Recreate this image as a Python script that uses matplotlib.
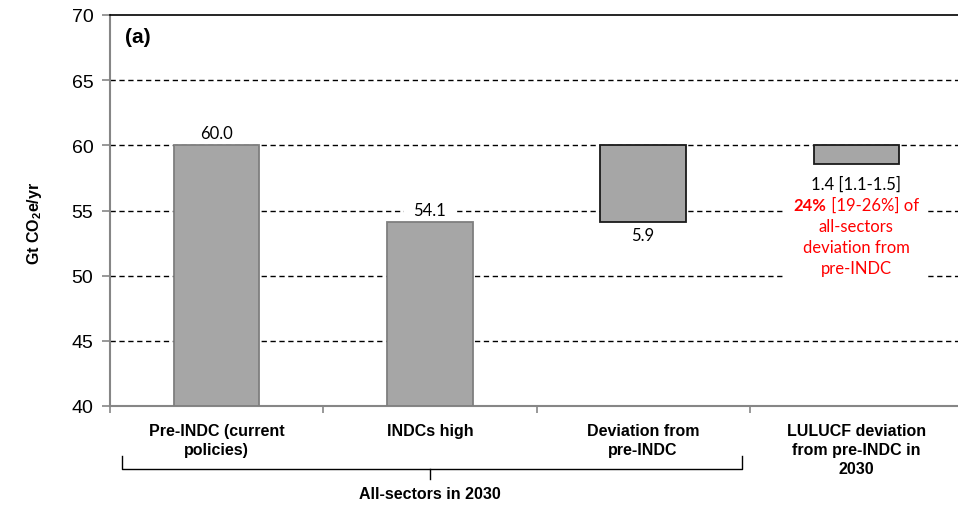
import matplotlib
matplotlib.use("Agg")
import matplotlib.pyplot as plt
from matplotlib.offsetbox import TextArea, HPacker, VPacker, AnnotationBbox

plt.rcParams['font.family'] = ['Liberation Sans', 'DejaVu Sans']
plt.rcParams['mathtext.fontset'] = 'custom'
plt.rcParams['mathtext.rm'] = 'Liberation Sans:bold'
plt.rcParams['mathtext.bf'] = 'Liberation Sans:bold'
plt.rcParams['mathtext.it'] = 'Liberation Sans:bold'

# ---- data ----
categories = ["Pre-INDC (current\npolicies)", "INDCs high", "Deviation from\npre-INDC",
              "LULUCF deviation\nfrom pre-INDC in\n2030"]
bar_bottoms = [40.0, 40.0, 54.1, 58.6]
bar_tops = [60.0, 54.1, 60.0, 60.0]
value_labels = ["60.0", "54.1", "5.9", "1.4 [1.1-1.5]"]
share_bold = "24%"
share_rest = " [19-26%] of"
share_lines = ["all-sectors", "deviation from", "pre-INDC"]
group_label = "All-sectors in 2030"
yticks = [40, 45, 50, 55, 60, 65, 70]

W, H = 958, 506
fig = plt.figure(figsize=(W / 100, H / 100), dpi=100)
ax = fig.add_axes([110 / W, 1 - 407 / H, (963 - 110) / W, (407 - 16) / H])

x = list(range(len(categories)))
heights = [t - b for t, b in zip(bar_tops, bar_bottoms)]
edgecols = ['#7f7f7f', '#7f7f7f', '#1a1a1a', '#1a1a1a']
ax.bar(x, heights, bottom=bar_bottoms, width=0.40, color='#a6a6a6',
       edgecolor=edgecols, linewidth=1.3, zorder=3)

ax.set_xlim(-0.5, 3.5)
ax.set_ylim(40, 70)
ax.set_yticks(yticks)
ax.set_yticklabels([str(v) for v in yticks], fontsize=14)
for v in yticks[1:-1]:
    ax.axhline(v, color='black', lw=1.0, ls=(0, (3.8, 2.6)), zorder=1)

ax.set_xticks(x)
ax.set_xticklabels(categories, fontsize=11.5, fontweight='bold', linespacing=1.35)
ax.set_xticks([-0.5, 0.5, 1.5, 2.5, 3.5], minor=True)
ax.tick_params(axis='x', which='major', length=0, pad=12)
ax.tick_params(axis='x', which='minor', length=5, color='#868686', width=1.2, direction='out')
ax.tick_params(axis='y', length=6, color='#868686', width=1.2, pad=6)

for s in ['left', 'bottom']:
    ax.spines[s].set_color('#868686')
    ax.spines[s].set_linewidth(1.5)
ax.spines['right'].set_visible(False)
ax.spines['top'].set_color('black')
ax.spines['top'].set_linewidth(1.2)

ax.set_ylabel(r'Gt CO$_{2}$e/yr', fontsize=11.5, fontweight='bold')
ax.yaxis.set_label_coords(-0.077, 0.47)

ax.text(0.017, 0.945, "(a)", transform=ax.transAxes, fontsize=15,
        fontweight='bold', va='center', ha='left')

lab_font = dict(family='Lato', fontsize=12)
ax.text(x[0], bar_tops[0] + 0.3, value_labels[0], ha='center', va='bottom',
        zorder=4, **lab_font)
ax.text(x[1], bar_tops[1] + 0.3, value_labels[1], ha='center', va='bottom',
        bbox=dict(facecolor='white', edgecolor='none', pad=7), zorder=2, **lab_font)
ax.text(x[2], bar_bottoms[2] - 0.35, value_labels[2], ha='center', va='top', **lab_font)

# annotation block under the LULUCF bar
fs = 12
red = '#ff0000'
rows = [TextArea(value_labels[3], textprops=dict(family='Lato', fontsize=fs, color='black'))]
rows.append(HPacker(children=[
    TextArea(share_bold, textprops=dict(family='Lato', fontsize=fs, color=red, fontweight='bold')),
    TextArea(share_rest, textprops=dict(family='Lato', fontsize=fs, color=red))],
    align='baseline', pad=0, sep=0))
for s in share_lines:
    rows.append(TextArea(s, textprops=dict(family='Lato', fontsize=fs, color=red)))
vp = VPacker(children=rows, align='center', pad=0, sep=3.6)
ab = AnnotationBbox(vp, (x[3], bar_bottoms[3] - 0.9), xycoords='data',
                    box_alignment=(0.5, 1.0), frameon=True,
                    bboxprops=dict(facecolor='white', edgecolor='none'), pad=0.6, zorder=2)
ax.add_artist(ab)

# bracket grouping first three categories
tr = ax.get_xaxis_transform()
xl, xr, xm = -0.444, 2.462, 1.0
y_top, y_bot, y_tick = -0.128, -0.161, -0.187
ax.plot([xl, xl, xr, xr], [y_top, y_bot, y_bot, y_top], color='black', lw=1.0,
        transform=tr, clip_on=False)
ax.plot([xm, xm], [y_bot, y_tick], color='black', lw=1.0, transform=tr, clip_on=False)
ax.text(xm, -0.223, group_label, transform=tr, ha='center', va='center',
        fontsize=11.5, fontweight='bold')

fig.savefig("out.png", dpi=100)
